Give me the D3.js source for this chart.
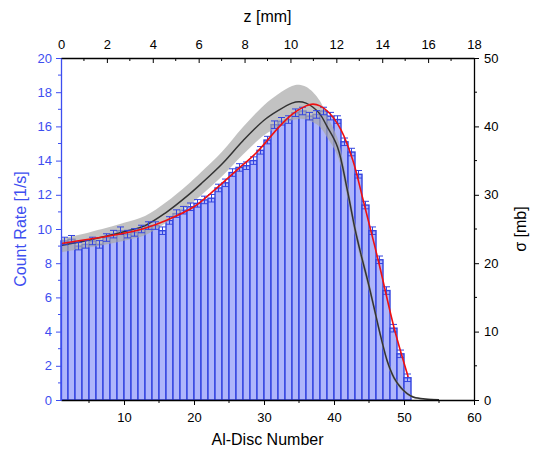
<!DOCTYPE html>
<html>
<head>
<meta charset="utf-8">
<script src="https://cdn.jsdelivr.net/npm/d3@7"></script>
<style>
  body { margin: 0; background: #fff; }
  svg { font-family: "Liberation Sans", Arial, sans-serif; }
</style>
</head>
<body>
<svg id="chart" width="536" height="450"></svg>
<script>
// --- data ---
const discs = d3.range(1, 51)   // Al-disc number, bar n spans [n, n+1]
const countRate = [9.3, 9.4, 9.0, 9.1, 9.3, 9.1, 9.5, 9.7, 9.9, 9.7,
                   9.8, 10.0, 10.2, 10.2, 9.9, 10.5, 10.9, 11.1, 11.3, 11.5,
                   11.7, 11.8, 12.4, 12.7, 13.3, 13.6, 13.7, 14.0, 14.6, 15.2,
                   16.1, 16.3, 16.4, 16.8, 16.9, 16.6, 16.7, 16.9, 16.6, 16.4,
                   15.1, 14.5, 13.2, 11.4, 9.9, 8.2, 6.4, 4.2, 2.7, 1.3]
const countErr = 0.22

// red fit on count rate
const fitX = [1, 5, 10, 13, 16, 20, 23, 26, 29, 32, 34, 36, 37, 38, 39.3, 41, 42.7, 44.1, 46.3, 48.6, 50.6]
const fitY = [9.15, 9.4, 9.75, 10.05, 10.5, 11.3, 12.3, 13.4, 14.5, 15.9, 16.7, 17.2, 17.3, 17.2, 16.8, 15.8, 14.0, 11.8, 8.2, 4.2, 1.35]

// cross section (right axis) with uncertainty band
const sigX   = [1, 5, 10, 13, 16, 19, 21, 24, 27, 30, 32, 34, 35, 36, 37, 38, 39, 40.5, 41.9, 43, 43.8, 44.8, 45.7, 46.7, 47.7, 48.6, 49.6, 50.5, 51.4, 53, 55]
const sigY   = [22.6, 23.4, 24.6, 25.5, 27.4, 29.8, 31.6, 34.5, 37.9, 40.9, 42.3, 43.4, 43.6, 43.4, 42.8, 41.8, 40.0, 37.0, 30.7, 25.0, 21.5, 17.5, 13.6, 9.2, 5.4, 3.2, 1.75, 0.9, 0.4, 0.15, 0.05]
const sigErr = [1.0, 1.1, 1.3, 1.4, 1.5, 1.6, 1.7, 1.8, 2.0, 2.2, 2.4, 2.5, 2.5, 2.4, 2.2, 1.9, 1.6, 1.3, 1.1, 1.0, 0.9, 0.8, 0.7, 0.6, 0.5, 0.4, 0.3, 0.2, 0.15, 0.1, 0.05]

const yTicks = d3.range(0, 21, 2)
const sigTicks = d3.range(0, 51, 10)
const discTicks = d3.range(10, 61, 10)
const zTicks = d3.range(0, 19, 2)

// --- layout ---
const mLeft = 61, mRight = 474, mTop = 58, mBottom = 400
const blue = '#3d4ef0'
const svg = d3.select('#chart')

const x = d3.scaleLinear().domain([1, 60]).range([mLeft, mRight])
const xz = d3.scaleLinear().domain([0, 18]).range([mLeft, mRight])
const y = d3.scaleLinear().domain([0, 20]).range([mBottom, mTop])
const ys = d3.scaleLinear().domain([0, 50]).range([mBottom, mTop])

// bars
svg.append('g').selectAll('rect')
  .data(discs)
  .join('rect')
    .attr('x', d => x(d))
    .attr('y', (d, i) => y(countRate[i]))
    .attr('width', d => x(d + 1) - x(d))
    .attr('height', (d, i) => y(0) - y(countRate[i]))
    .attr('fill', '#aeb5fb')
    .attr('stroke', '#3344e0')
    .attr('stroke-width', 1.4)

// gray band + black sigma line
const band = d3.area()
  .x((d, i) => x(sigX[i]))
  .y0((d, i) => ys(sigY[i] - sigErr[i]))
  .y1((d, i) => ys(sigY[i] + sigErr[i]))
  .curve(d3.curveCatmullRom)
svg.append('path').datum(sigY).attr('d', band)
  .attr('fill', '#a8a8a8').attr('fill-opacity', 0.7)

svg.append('path').datum(sigY)
  .attr('d', d3.line().x((d, i) => x(sigX[i])).y(d => ys(d)).curve(d3.curveCatmullRom))
  .attr('fill', 'none').attr('stroke', '#333').attr('stroke-width', 1.5)

// error bars
const eb = svg.append('g').attr('stroke', '#3344e0').attr('stroke-width', 1)
discs.forEach((d, i) => {
  const cx = x(d + 0.5), v = countRate[i]
  const hi = y(v + countErr), lo = y(v - countErr)
  eb.append('line').attr('x1', cx).attr('x2', cx).attr('y1', hi).attr('y2', lo)
  eb.append('line').attr('x1', cx - 3.5).attr('x2', cx + 3.5).attr('y1', hi).attr('y2', hi)
  eb.append('line').attr('x1', cx - 3.5).attr('x2', cx + 3.5).attr('y1', lo).attr('y2', lo)
})

// red fit
svg.append('path').datum(fitY)
  .attr('d', d3.line().x((d, i) => x(fitX[i])).y(d => y(d)).curve(d3.curveCatmullRom))
  .attr('fill', 'none').attr('stroke', '#f01010').attr('stroke-width', 1.6)

// --- axes ---
function style(g, col) {
  g.selectAll('path, line').attr('stroke', col)
  g.selectAll('text').attr('fill', col).style('font-size', '13px')
  g.select('.domain').attr('stroke-width', 1.3)
}

// bottom
const gb = svg.append('g').attr('transform', `translate(0,${mBottom})`)
  .call(d3.axisBottom(x).tickValues(discTicks).tickSize(5).tickSizeOuter(0).tickPadding(8))
gb.append('g').selectAll('line').data(d3.range(5, 60, 10)).join('line')
  .attr('x1', d => x(d)).attr('x2', d => x(d)).attr('y1', 0).attr('y2', 3)
style(gb, '#000')

// top (ticks inward)
const gt = svg.append('g').attr('transform', `translate(0,${mTop})`)
  .call(d3.axisTop(xz).tickValues(zTicks).tickSize(-5).tickSizeOuter(0).tickPadding(9))
gt.append('g').selectAll('line').data(d3.range(1, 18, 2)).join('line')
  .attr('x1', d => xz(d)).attr('x2', d => xz(d)).attr('y1', 0).attr('y2', 3)
style(gt, '#000')

// left
const gl = svg.append('g').attr('transform', `translate(${mLeft},0)`)
  .call(d3.axisLeft(y).tickValues(yTicks).tickSize(5).tickSizeOuter(0).tickPadding(4))
gl.append('g').selectAll('line').data(d3.range(1, 20, 2)).join('line')
  .attr('x1', 0).attr('x2', -3).attr('y1', d => y(d)).attr('y2', d => y(d))
style(gl, blue)

// right
const gr = svg.append('g').attr('transform', `translate(${mRight},0)`)
  .call(d3.axisRight(ys).tickValues(sigTicks).tickSize(5).tickSizeOuter(0).tickPadding(5))
gr.append('g').selectAll('line').data(d3.range(5, 50, 10)).join('line')
  .attr('x1', 0).attr('x2', 3).attr('y1', d => ys(d)).attr('y2', d => ys(d))
style(gr, '#000')

// titles
svg.append('text').attr('x', (mLeft + mRight) / 2).attr('y', 22)
  .attr('text-anchor', 'middle').style('font-size', '16px').text('z [mm]')
svg.append('text').attr('x', (mLeft + mRight) / 2).attr('y', 445)
  .attr('text-anchor', 'middle').style('font-size', '16px').text('Al-Disc Number')
svg.append('text').attr('transform', `translate(26,${(mTop + mBottom) / 2}) rotate(-90)`)
  .attr('text-anchor', 'middle').attr('fill', blue).style('font-size', '16px').text('Count Rate [1/s]')
svg.append('text').attr('transform', `translate(526,${(mTop + mBottom) / 2}) rotate(-90)`)
  .attr('text-anchor', 'middle').style('font-size', '16px').text('σ [mb]')
</script>
</body>
</html>
